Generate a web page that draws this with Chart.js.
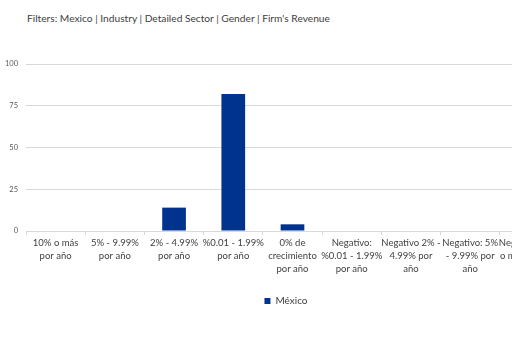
<!DOCTYPE html>
<html>
<head>
<meta charset="utf-8">
<script src="https://cdn.jsdelivr.net/npm/chart.js@4/dist/chart.umd.min.js"></script>
<style>
  html, body { margin: 0; padding: 0; background: #fff; }
  body { width: 512px; height: 341px; overflow: hidden; position: relative; }
  #title {
    position: absolute; left: 27px; top: 12px;
    font-family: Lato, sans-serif; font-size: 10.2px; color: #404040;
    white-space: nowrap;
  }
  #myChart { position: absolute; left: 0; top: 0; }
</style>
</head>
<body>
<div id="title">Filters: Mexico | Industry | Detailed Sector | Gender | Firm's Revenue</div>
<canvas id="myChart" width="572" height="341"></canvas>
<script>
// categories (wrapped as in the picture)
const categories = [
    ['10% o más', 'por año'],
    ['5% - 9.99%', 'por año'],
    ['2% - 4.99%', 'por año'],
    ['%0.01 - 1.99%', 'por año'],
    ['0% de', 'crecimiento', 'por año'],
    ['Negativo:', '%0.01 - 1.99%', 'por año'],
    ['Negativo 2% -', '4.99% por', 'año'],
    ['Negativo: 5%', '- 9.99% por', 'año'],
    ['Negativo: 10%', 'o más por año']
];
const mexicoValues = [0, 0, 14, 82, 4, 0, 0, 0, 0];
const yTicks = [0, 25, 50, 75, 100];

const ctx = document.getElementById('myChart');

new Chart(ctx, {
    type: 'bar',
    data: {
        labels: categories,
        datasets: [{
            label: 'México',
            data: mexicoValues,
            backgroundColor: '#00338d',
            categoryPercentage: 0.8,
            barPercentage: 0.5
        }]
    },
    options: {
        responsive: false,
        animation: false,
        layout: {
            padding: { top: 64, left: 0, right: 0, bottom: 25 }
        },
        plugins: {
            legend: {
                position: 'bottom',
                labels: {
                    boxWidth: 6,
                    boxHeight: 6,
                    padding: 5,
                    color: '#404040',
                    font: { family: 'Lato', size: 10 }
                }
            },
            tooltip: { enabled: false }
        },
        scales: {
            x: {
                grid: {
                    drawOnChartArea: false,
                    tickLength: 4,
                    color: '#d9d9d9'
                },
                border: { color: '#d9d9d9' },
                ticks: {
                    maxRotation: 0,
                    autoSkip: false,
                    padding: 1,
                    color: '#404040',
                    font: { family: 'Lato', size: 9.5, lineHeight: '13px' }
                },
                afterFit: s => {
                    s.height = 60;
                    s.paddingLeft = 0;
                    s.paddingRight = 13;
                }
            },
            y: {
                min: 0,
                max: 100,
                afterBuildTicks: s => { s.ticks = yTicks.map(v => ({ value: v })); },
                grid: { drawTicks: false, color: '#d9d9d9' },
                border: { display: false },
                ticks: {
                    padding: 8,
                    color: '#595959',
                    font: { family: 'Lato', size: 7.5 }
                },
                afterFit: s => { s.width = 26; }
            }
        }
    }
});
</script>
</body>
</html>
